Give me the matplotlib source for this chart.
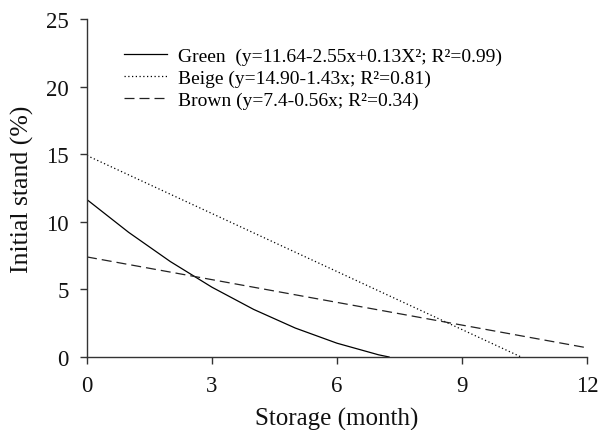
import matplotlib
matplotlib.use("Agg")
from matplotlib import pyplot as plt

plt.rcParams['font.family'] = ['Liberation Serif', 'DejaVu Serif']

# values
green_x = [0, 1, 2, 3, 4, 5, 6, 7, 7.25]
green_y = [11.64, 9.22, 7.06, 5.16, 3.52, 2.14, 1.02, 0.16, 0.0]
beige_x = [0, 10.42]
beige_y = [14.90, 0.0]
brown_x = [0, 12]
brown_y = [7.4, 0.68]

labels = ["Green  (y=11.64-2.55x+0.13X\u00b2; R\u00b2=0.99)",
          "Beige (y=14.90-1.43x; R\u00b2=0.81)",
          "Brown (y=7.4-0.56x; R\u00b2=0.34)"]
x_ticks = [0, 3, 6, 9, 12]
y_ticks = [0, 5, 10, 15, 20, 25]

fig = plt.figure(figsize=(5.99, 4.31), dpi=100)
ax = fig.add_axes([0.1452, 0.1694, 0.8347, 0.7842])

ax.plot(green_x, green_y, color='black', lw=0.9, ls='-', label=labels[0])
ax.plot(beige_x, beige_y, color='black', lw=0.9, ls=(0, (1, 2)), label=labels[1])
ax.plot(brown_x, brown_y, color='#222222', lw=0.9, ls=(0, (8, 4)), label=labels[2])

ax.set_xlim(0, 12)
ax.set_ylim(0, 25)
ax.set_xticks(x_ticks)
ax.set_yticks(y_ticks)
for s in ['top', 'right']:
    ax.spines[s].set_visible(False)
for s in ['left', 'bottom']:
    ax.spines[s].set_color('#333333')
    ax.spines[s].set_linewidth(1.0)
ax.tick_params(direction='out', length=5, width=1.0, color='#333333',
               labelsize=16.5, labelcolor='#111111', pad=8)

ax.set_xlabel("Storage (month)", fontsize=18, color='#111111', labelpad=8)
ax.set_ylabel("Initial stand (%)", fontsize=18.5, color='#111111', labelpad=9)

ax.legend(loc='upper left', bbox_to_anchor=(0.058, 0.94), frameon=False,
          fontsize=14, handlelength=2.2, handletextpad=0.6,
          labelspacing=0.22, borderaxespad=0)

fig.savefig("out.png", dpi=100)
